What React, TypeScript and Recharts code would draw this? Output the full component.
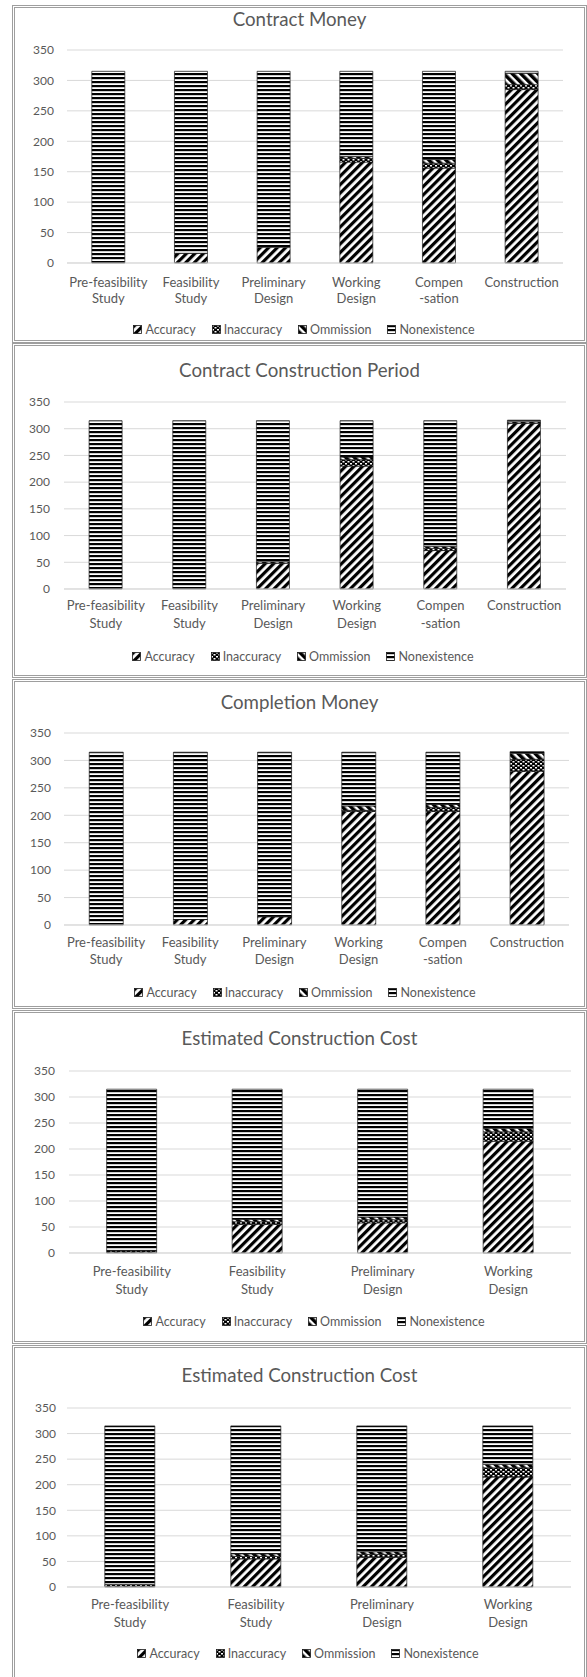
import React from "react";
import { BarChart, Bar, XAxis, YAxis, CartesianGrid } from "recharts";

const FONT = "Lato, 'Open Sans', sans-serif";
const TEXT = "#595959";

// stages on the category axis ("\n" = line break in the tick)
const sixStages = [
  "Pre-feasibility\nStudy",
  "Feasibility\nStudy",
  "Preliminary\nDesign",
  "Working\nDesign",
  "Compen\n-sation",
  "Construction",
];
const fourStages = sixStages.slice(0, 4);
const seriesNames = ["Accuracy", "Inaccuracy", "Ommission", "Nonexistence"];
const yTicks = [0, 50, 100, 150, 200, 250, 300, 350];

// Contract Money
const moneyAccuracy = [0, 16, 26, 166, 156, 285];
const moneyInaccuracy = [0, 0, 0, 6, 8, 8];
const moneyOmmission = [0, 0, 0, 3, 6, 19];
const moneyNonexistence = [315, 299, 289, 140, 145, 3];

// Contract Construction Period
const periodAccuracy = [0, 0, 48, 230, 72, 310];
const periodInaccuracy = [0, 0, 0, 12, 4, 0];
const periodOmmission = [0, 0, 3, 5, 4, 3];
const periodNonexistence = [315, 315, 264, 68, 235, 3];

// Completion Money
const completionAccuracy = [1, 10, 15, 207, 207, 280];
const completionInaccuracy = [0, 0, 0, 2, 7, 22];
const completionOmmission = [0, 0, 0, 8, 6, 11];
const completionNonexistence = [314, 305, 300, 98, 95, 3];

// Estimated Construction Cost
const costAccuracy = [2, 55, 58, 215];
const costInaccuracy = [3, 5, 6, 18];
const costOmmission = [0, 5, 5, 7];
const costNonexistence = [310, 250, 246, 75];

const patternKeys = ["acc", "inacc", "omm", "non"];

const PatternDefs = ({ id }: { id: string }) => (
  <defs>
    <pattern id={`${id}-acc`} width={6} height={6} patternUnits="userSpaceOnUse" patternTransform="rotate(45)">
      <rect width={6} height={6} fill="#fff" />
      <rect width={3.2} height={6} fill="#000" />
    </pattern>
    <pattern id={`${id}-inacc`} width={5} height={4} patternUnits="userSpaceOnUse">
      <rect width={5} height={4} fill="#000" />
      <rect x={0} y={0} width={2} height={1.5} fill="#fff" />
      <rect x={2.5} y={2} width={2} height={1.5} fill="#fff" />
    </pattern>
    <pattern id={`${id}-omm`} width={6} height={6} patternUnits="userSpaceOnUse" patternTransform="rotate(-45)">
      <rect width={6} height={6} fill="#fff" />
      <rect width={3.5} height={6} fill="#000" />
    </pattern>
    <pattern id={`${id}-non`} width={4} height={4} patternUnits="userSpaceOnUse">
      <rect width={4} height={4} fill="#fff" />
      <rect width={4} height={2.2} fill="#000" />
    </pattern>
  </defs>
);

const StageTick = (props: any) => {
  const { x, y, payload, first, gap } = props;
  const lines = String(payload.value).split("\n");
  return (
    <text x={x} y={y} textAnchor="middle" fill={TEXT} fontSize={13} fontFamily={FONT}>
      {lines.map((l: string, i: number) => (
        <tspan key={i} x={x} dy={i === 0 ? first : gap}>
          {l}
        </tspan>
      ))}
    </text>
  );
};

const panels = [
  {
    id: "p1", title: "Contract Money", stages: sixStages,
    values: [moneyAccuracy, moneyInaccuracy, moneyOmmission, moneyNonexistence],
    top: 5, height: 338, titleY: 19, y350: 50, y0: 263, plotLeft: 67, plotRight: 563,
    tickGap: 13, lab1: 24, labGap: 16, legendY: 329, legendX: 304,
  },
  {
    id: "p2", title: "Contract Construction Period", stages: sixStages,
    values: [periodAccuracy, periodInaccuracy, periodOmmission, periodNonexistence],
    top: 343, height: 335, titleY: 370, y350: 402, y0: 589, plotLeft: 64, plotRight: 566,
    tickGap: 14, lab1: 21, labGap: 18, legendY: 656, legendX: 303,
  },
  {
    id: "p3", title: "Completion Money", stages: sixStages,
    values: [completionAccuracy, completionInaccuracy, completionOmmission, completionNonexistence],
    top: 679, height: 330, titleY: 702, y350: 733, y0: 925, plotLeft: 64, plotRight: 569,
    tickGap: 13, lab1: 22, labGap: 17, legendY: 992, legendX: 305,
  },
  {
    id: "p4", title: "Estimated Construction Cost", stages: fourStages,
    values: [costAccuracy, costInaccuracy, costOmmission, costNonexistence],
    top: 1010, height: 334, titleY: 1038, y350: 1071, y0: 1253, plotLeft: 69, plotRight: 571,
    tickGap: 14, lab1: 23, labGap: 18, legendY: 1321, legendX: 314,
  },
  {
    id: "p5", title: "Estimated Construction Cost", stages: fourStages,
    values: [costAccuracy, costInaccuracy, costOmmission, costNonexistence],
    top: 1345, height: 340, titleY: 1375, y350: 1408, y0: 1587, plotLeft: 67, plotRight: 571,
    tickGap: 11, lab1: 22, labGap: 18, legendY: 1653, legendX: 308,
  },
];

const AXIS_W = 45;
const XAXIS_H = 50;

const Panel = ({ p }: { p: (typeof panels)[number] }) => {
  const data = p.stages.map((stage, i) => {
    const row: Record<string, any> = { stage };
    seriesNames.forEach((name, s) => {
      row[name] = p.values[s][i];
    });
    return row;
  });
  const chartH = p.y0 - p.top + XAXIS_H;

  return (
    <>
      <div
        style={{
          position: "absolute", left: 12, top: p.top, width: 575, height: p.height,
          border: "3px double #9e9e9e", boxSizing: "border-box", background: "#fff",
        }}
      />
      <div
        style={{
          position: "absolute", left: 12, width: 575, top: p.titleY - 12, height: 24,
          lineHeight: "24px", textAlign: "center", fontFamily: FONT, fontSize: 18.7, color: TEXT,
        }}
      >
        {p.title}
      </div>
      <div style={{ position: "absolute", left: 0, top: p.top }}>
        <BarChart
          width={587}
          height={chartH}
          data={data}
          barCategoryGap="30%"
          margin={{ top: p.y350 - p.top, left: p.plotLeft - AXIS_W, right: 587 - p.plotRight, bottom: 0 }}
        >
          <PatternDefs id={p.id} />
          <CartesianGrid vertical={false} stroke="#d9d9d9" />
          <XAxis
            dataKey="stage"
            height={XAXIS_H}
            axisLine={{ stroke: "#d9d9d9" }}
            tickLine={false}
            tickSize={0}
            tickMargin={0}
            interval={0}
            tick={<StageTick first={p.lab1} gap={p.labGap} />}
          />
          <YAxis
            width={AXIS_W}
            domain={[0, 350]}
            ticks={yTicks}
            axisLine={false}
            tickLine={false}
            tickSize={0}
            tickMargin={p.tickGap}
            tick={{ fill: TEXT, fontSize: 12, fontFamily: FONT }}
          />
          {seriesNames.map((name, s) => (
            <Bar
              key={name}
              dataKey={name}
              stackId="s"
              fill={`url(#${p.id}-${patternKeys[s]})`}
              stroke="#1a1a1a"
              strokeWidth={0.7}
              isAnimationActive={false}
            />
          ))}
        </BarChart>
      </div>
      <div
        style={{
          position: "absolute", left: p.legendX - 200, width: 400, top: p.legendY - 8, height: 16,
          display: "flex", justifyContent: "center", alignItems: "center", gap: 16,
          fontFamily: FONT, fontSize: 12.5, color: TEXT,
        }}
      >
        {seriesNames.map((name, s) => (
          <span key={name} style={{ display: "flex", alignItems: "center", gap: 3 }}>
            <svg width={9} height={9}>
              <rect x={0.5} y={0.5} width={8} height={8} fill={`url(#${p.id}-${patternKeys[s]})`} stroke="#1a1a1a" strokeWidth={0.8} />
            </svg>
            {name}
          </span>
        ))}
      </div>
    </>
  );
};

export default function App() {
  return (
    <div style={{ position: "absolute", left: 0, top: 0, width: 587, height: 1677, overflow: "hidden", background: "#fff" }}>
      {panels.map((p) => (
        <Panel key={p.id} p={p} />
      ))}
    </div>
  );
}
